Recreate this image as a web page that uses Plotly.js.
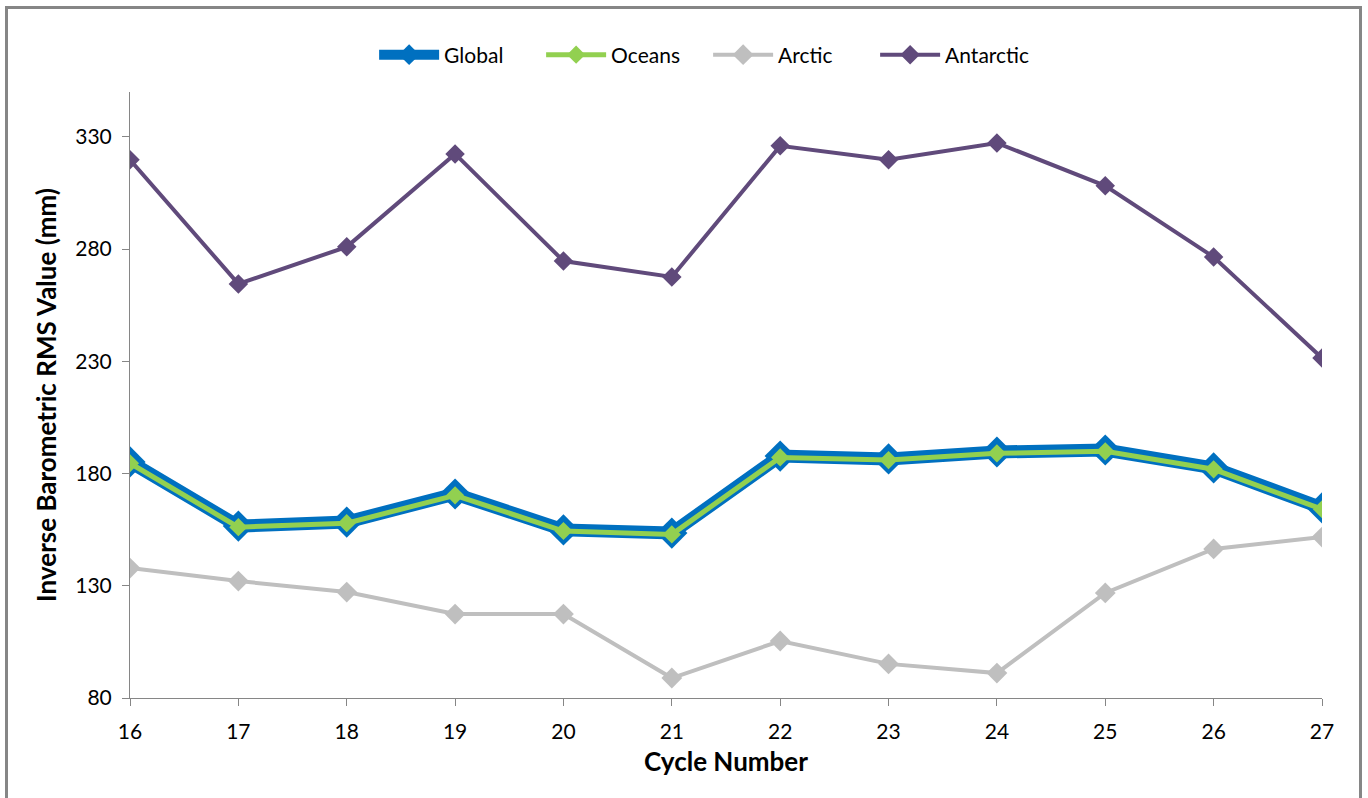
<!DOCTYPE html>
<html>
<head>
<meta charset="utf-8">
<script src="https://cdn.plot.ly/plotly-3.0.1.min.js"></script>
<style>
html,body{margin:0;padding:0;background:#fff;}
#chart{width:1368px;height:798px;}
#frame{position:absolute;left:5px;top:6px;width:1357px;height:800px;border:3px solid #868686;pointer-events:none;box-sizing:border-box;}
</style>
</head>
<body>
<div id="chart"></div>
<div id="frame"></div>
<script>
const cycles = [16, 17, 18, 19, 20, 21, 22, 23, 24, 25, 26, 27];
const globalVals = [185.2, 156.6, 158.4, 170.9, 154.9, 153.5, 187.8, 186.5, 189.6, 190.5, 182.5, 164.7];
const oceansVals = [184.6, 156.1, 157.9, 170.3, 154.4, 152.9, 187.2, 186.0, 189.0, 189.9, 181.9, 164.1];
const arcticVals = [137.9, 132.1, 127.2, 117.4, 117.4, 88.9, 105.4, 95.2, 91.1, 126.8, 146.4, 151.7];
const antarcticVals = [319.8, 264.5, 281.0, 322.4, 274.7, 267.6, 326.0, 319.8, 327.3, 308.2, 276.5, 231.5];
const yTicks = [80, 130, 180, 230, 280, 330];

const traces = [
  {x: cycles, y: globalVals, name: 'Global', mode: 'lines+markers',
   line: {color: '#0070C0', width: 13},
   marker: {symbol: 'diamond', size: 24, color: '#0070C0'}},
  {x: cycles, y: oceansVals, name: 'Oceans', mode: 'lines+markers',
   line: {color: '#92D050', width: 5},
   marker: {symbol: 'diamond', size: 14, color: '#92D050'}},
  {x: cycles, y: arcticVals, name: 'Arctic', mode: 'lines+markers',
   line: {color: '#BFBFBF', width: 4},
   marker: {symbol: 'diamond', size: 16, color: '#BFBFBF'}},
  {x: cycles, y: antarcticVals, name: 'Antarctic', mode: 'lines+markers',
   line: {color: '#604A7B', width: 4},
   marker: {symbol: 'diamond', size: 15, color: '#604A7B'}}
];

const layout = {
  width: 1368, height: 798,
  margin: {l: 130, r: 46, t: 92, b: 100},
  paper_bgcolor: '#fff', plot_bgcolor: '#fff',
  font: {family: 'Lato, "Open Sans", sans-serif', size: 21, color: '#000'},
  showlegend: true,
  legend: {orientation: 'h', x: 0.485, xanchor: 'center', y: 1.061, yanchor: 'middle',
           font: {size: 21}, itemwidth: 60, traceorder: 'normal',
           entrywidth: 92, entrywidthmode: 'pixels'},
  xaxis: {
    range: [16, 27], tickvals: cycles, ticktext: cycles.map(String),
    showgrid: false, zeroline: false, showline: true, linecolor: '#868686', linewidth: 1,
    ticks: 'outside', ticklen: 7, tickcolor: '#868686',
    tickfont: {size: 21}, ticklabelstandoff: 8,
    title: {text: '<b>Cycle Number</b>', font: {size: 26}, standoff: 10}
  },
  yaxis: {
    range: [80, 350], tickvals: yTicks, ticktext: yTicks.map(String),
    showgrid: false, zeroline: false, showline: true, linecolor: '#868686', linewidth: 1,
    ticks: 'outside', ticklen: 7, tickcolor: '#868686',
    tickfont: {size: 21}, ticklabelstandoff: 6,
    title: {text: '<b>Inverse Barometric RMS Value (mm)</b>', font: {size: 26}, standoff: 11}
  }
};

Plotly.newPlot('chart', traces, layout, {displayModeBar: false, staticPlot: true});
</script>
</body>
</html>
